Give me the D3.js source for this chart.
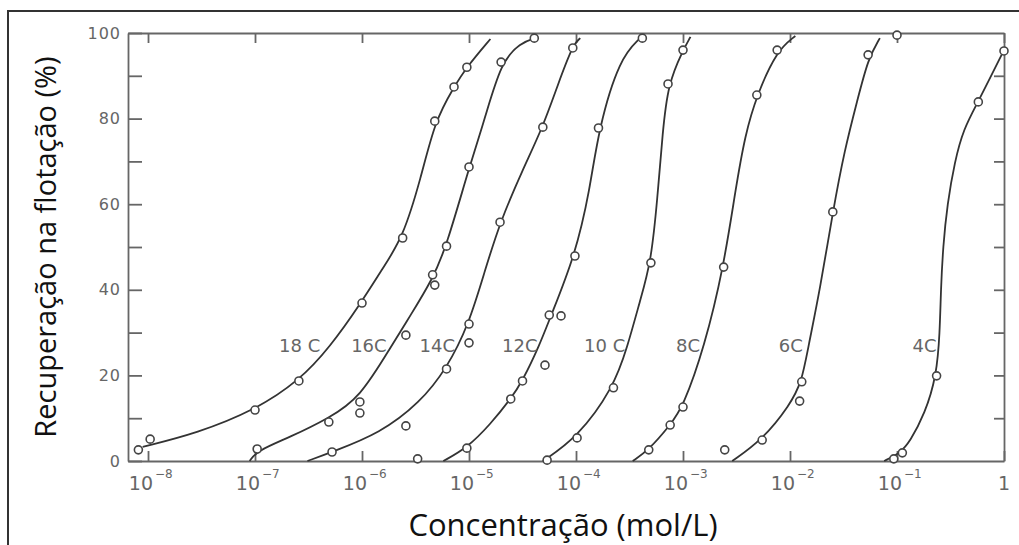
<!DOCTYPE html>
<html>
<head>
<meta charset="utf-8">
<style>
  body { margin: 0; background: #fff; }
  svg { display: block; }
  .curve { fill: none; stroke: #333; stroke-width: 1.8px; }
  .pt { fill: #fff; stroke: #444; stroke-width: 1.6px; }
  .axis path, .axis line { stroke: #666; stroke-width: 1.8px; }
  .axis text { fill: #666; font-family: "DejaVu Sans"; font-size: 16px; letter-spacing: 1px; }
  .lbl { fill: #666; font-family: "DejaVu Sans"; font-size: 17px; }
  .title { fill: #111; font-family: "Open Sans"; }
</style>
</head>
<body>
<svg width="1019" height="545"></svg>
<script src="https://d3js.org/d3.v7.min.js"></script>
<script>

// log10 of concentration (mol/L), recovery (%)
var line18 = [[-8.05,3.3],[-7.54,6.5],[-7.0,11.9],[-6.59,18.7],[-6.3,26.6],[-6.01,36.9],[-5.8,45.3],[-5.62,52.1],[-5.45,66],[-5.32,79.4],[-5.14,87.4],[-5.02,92.1],[-4.8,98.6]];
var pts18  = [[-8.09,2.6],[-7.98,5.1],[-7.0,11.9],[-6.59,18.7],[-6.0,36.9],[-5.62,52.1],[-5.32,79.4],[-5.14,87.4],[-5.02,92.0]];

var line16 = [[-7.05,0],[-6.98,2.4],[-6.67,5.6],[-6.31,10],[-6.02,14.7],[-5.72,27.1],[-5.55,33.9],[-5.34,42.5],[-5.21,50.2],[-5.0,68.5],[-4.85,80.1],[-4.7,93.2],[-4.52,97.7],[-4.38,98.8]];
var pts16  = [[-6.98,2.8],[-6.31,9.1],[-6.02,13.8],[-6.02,11.2],[-5.59,29.4],[-5.34,43.5],[-5.32,41.1],[-5.21,50.2],[-5.0,68.7],[-4.70,93.2],[-4.39,98.8]];

var line14 = [[-6.51,0],[-6.28,2.1],[-5.83,6.5],[-5.46,13.6],[-5.21,21.5],[-5.0,32],[-4.85,44.6],[-4.71,55.8],[-4.5,68],[-4.31,78],[-4.17,87.9],[-4.03,97.2],[-3.96,98.8]];
var pts14  = [[-6.28,2.1],[-5.59,8.2],[-5.21,21.5],[-5.0,27.6],[-5.0,32],[-4.71,55.8],[-4.31,78],[-4.03,96.5]];

var line12 = [[-5.24,0],[-5.02,3.0],[-4.8,8.6],[-4.61,14.5],[-4.5,18.7],[-4.34,27.1],[-4.24,33.6],[-4.01,47.9],[-3.87,63.3],[-3.79,77.6],[-3.59,94.2],[-3.4,98.8]];
var pts12  = [[-5.48,0.5],[-5.02,3.0],[-4.61,14.5],[-4.5,18.7],[-4.29,22.4],[-4.25,34.1],[-4.14,33.9],[-4.01,47.9],[-3.79,77.8],[-3.38,98.8]];

var line10 = [[-4.31,0],[-3.99,5.4],[-3.65,17.1],[-3.52,26.6],[-3.4,37.6],[-3.3,46.3],[-3.24,61],[-3.19,77],[-3.14,88.1],[-3.0,96],[-2.93,99.1]];
var pts10  = [[-4.27,0.2],[-3.99,5.4],[-3.65,17.1],[-3.30,46.3],[-3.14,88.1],[-3.0,96.0]];

var line8 = [[-3.47,0],[-3.32,2.6],[-3.12,8.4],[-3.0,12.6],[-2.8,26.6],[-2.62,45.3],[-2.51,63.3],[-2.42,76.2],[-2.31,85.5],[-2.12,96],[-1.95,99.3]];
var pts8  = [[-3.32,2.6],[-3.12,8.4],[-3.0,12.6],[-2.62,45.3],[-2.31,85.5],[-2.12,96.0]];

var line6 = [[-2.54,0],[-2.26,4.9],[-2.0,13.1],[-1.89,18.5],[-1.83,26.6],[-1.72,40],[-1.6,58.2],[-1.49,72.7],[-1.37,84.3],[-1.27,94],[-1.16,98.8]];
var pts6  = [[-2.61,2.6],[-2.26,4.9],[-1.91,14.0],[-1.89,18.5],[-1.60,58.2],[-1.27,94.9],[-1.0,99.5]];

var line4 = [[-1.12,0],[-0.97,1.9],[-0.88,4.5],[-0.74,11],[-0.63,19.9],[-0.6,30],[-0.59,40],[-0.57,50],[-0.53,60],[-0.46,70],[-0.38,77.5],[-0.24,84],[-0.1,91],[0,96]];
var pts4  = [[-1.03,0.5],[-0.95,1.9],[-0.63,19.9],[-0.24,83.9],[0,95.8]];

var chainNames = ["18 C","16C","14C","12C","10 C","8C","6C","4C"];
var chainLabelAt = [-6.39,-5.77,-5.13,-4.36,-3.54,-2.84,-1.88,-0.63]; // right edge of each label
var chainLabelY = 25.5;

var decades = [-8,-7,-6,-5,-4,-3,-2,-1,0];
var yLabels = [0,20,40,60,80,100];
var yTicks = [0,10,20,30,40,50,60,70,80,90,100];
var rightTicks = [10,20,30,40,50,60,70,80,90];

var lines = [line18,line16,line14,line12,line10,line8,line6,line4];
var points = [pts18,pts16,pts14,pts12,pts10,pts8,pts6,pts4];

var svg = d3.select("svg");

var x = d3.scaleLog().domain([Math.pow(10,-8.187), 1]).range([128, 1004]);
var y = d3.scaleLinear().domain([0,100]).range([461, 33]);
function px(e) { return x(Math.pow(10, e)); }

// outer frame
svg.append("rect")
    .attr("x", 8).attr("y", 11)
    .attr("width", 1040).attr("height", 560)
    .attr("fill", "none").attr("stroke", "#333").attr("stroke-width", 2);

// axes
svg.append("g")
    .attr("class", "axis")
    .attr("transform", "translate(0,33)")
    .call(d3.axisTop(x).tickValues(decades.map(function(e){ return Math.pow(10,e); }))
        .tickSizeInner(-10).tickSizeOuter(0).tickFormat(""))
    .selectAll("path,line").attr("stroke", "#888");

svg.append("g")
    .attr("class", "axis")
    .attr("transform", "translate(0,461)")
    .call(d3.axisBottom(x).tickValues(decades.map(function(e){ return Math.pow(10,e); }))
        .tickSizeInner(-10).tickSizeOuter(0).tickFormat(""));

svg.append("g")
    .attr("class", "axis")
    .attr("transform", "translate(128,0)")
    .call(d3.axisLeft(y).tickValues(yTicks).tickSizeInner(-14).tickSizeOuter(0).tickPadding(7)
        .tickFormat(function(d){ return yLabels.indexOf(d) >= 0 ? d : ""; }));

svg.append("g")
    .attr("class", "axis")
    .attr("transform", "translate(1004,0)")
    .call(d3.axisRight(y).tickValues(rightTicks).tickSizeInner(-10).tickSizeOuter(0).tickFormat(""));

// x tick labels 10^n
var xl = svg.append("g").attr("class", "xlabels");
decades.forEach(function(e) {
  if (e === 0) {
    xl.append("text").attr("class", "lbl")
      .attr("x", px(e)).attr("y", 490).attr("text-anchor", "middle")
      .style("font-size", "19px").text("1");
  } else {
    xl.append("text").attr("class", "lbl")
      .attr("x", px(e) + 5).attr("y", 490).attr("text-anchor", "end")
      .style("font-size", "19px").text("10");
    xl.append("text").attr("class", "lbl")
      .attr("x", px(e) + 7).attr("y", 478)
      .style("font-size", "12px").text("\u2212" + (-e));
  }
});

// curves (smooth, hand-drawn look)
var line = d3.line()
    .x(function(d){ return px(d[0]); })
    .y(function(d){ return y(d[1]); })
    .curve(d3.curveBasis);

svg.append("g").selectAll("path")
    .data(lines)
  .enter().append("path")
    .attr("class", "curve")
    .attr("d", line);

// points
points.forEach(function(p) {
  svg.append("g").selectAll("circle")
      .data(p)
    .enter().append("circle")
      .attr("class", "pt")
      .attr("cx", function(d){ return px(d[0]); })
      .attr("cy", function(d){ return y(d[1]); })
      .attr("r", 4);
});

// chain length labels
svg.append("g").selectAll("text")
    .data(chainNames)
  .enter().append("text")
    .attr("class", "lbl")
    .attr("x", function(d, i){ return px(chainLabelAt[i]); })
    .attr("y", y(chainLabelY))
    .attr("text-anchor", "end")
    .style("font-size", "18px")
    .text(function(d){ return d; });

// axis titles
svg.append("text")
    .attr("class", "title")
    .attr("transform", "translate(56,247) rotate(-90)")
    .attr("text-anchor", "middle")
    .style("font-size", "29px")
    .text("Recuperação na flotação (%)");

svg.append("text")
    .attr("class", "title")
    .attr("x", 563).attr("y", 536)
    .attr("text-anchor", "middle")
    .style("font-size", "31px")
    .text("Concentração (mol/L)");

</script>
</body>
</html>
